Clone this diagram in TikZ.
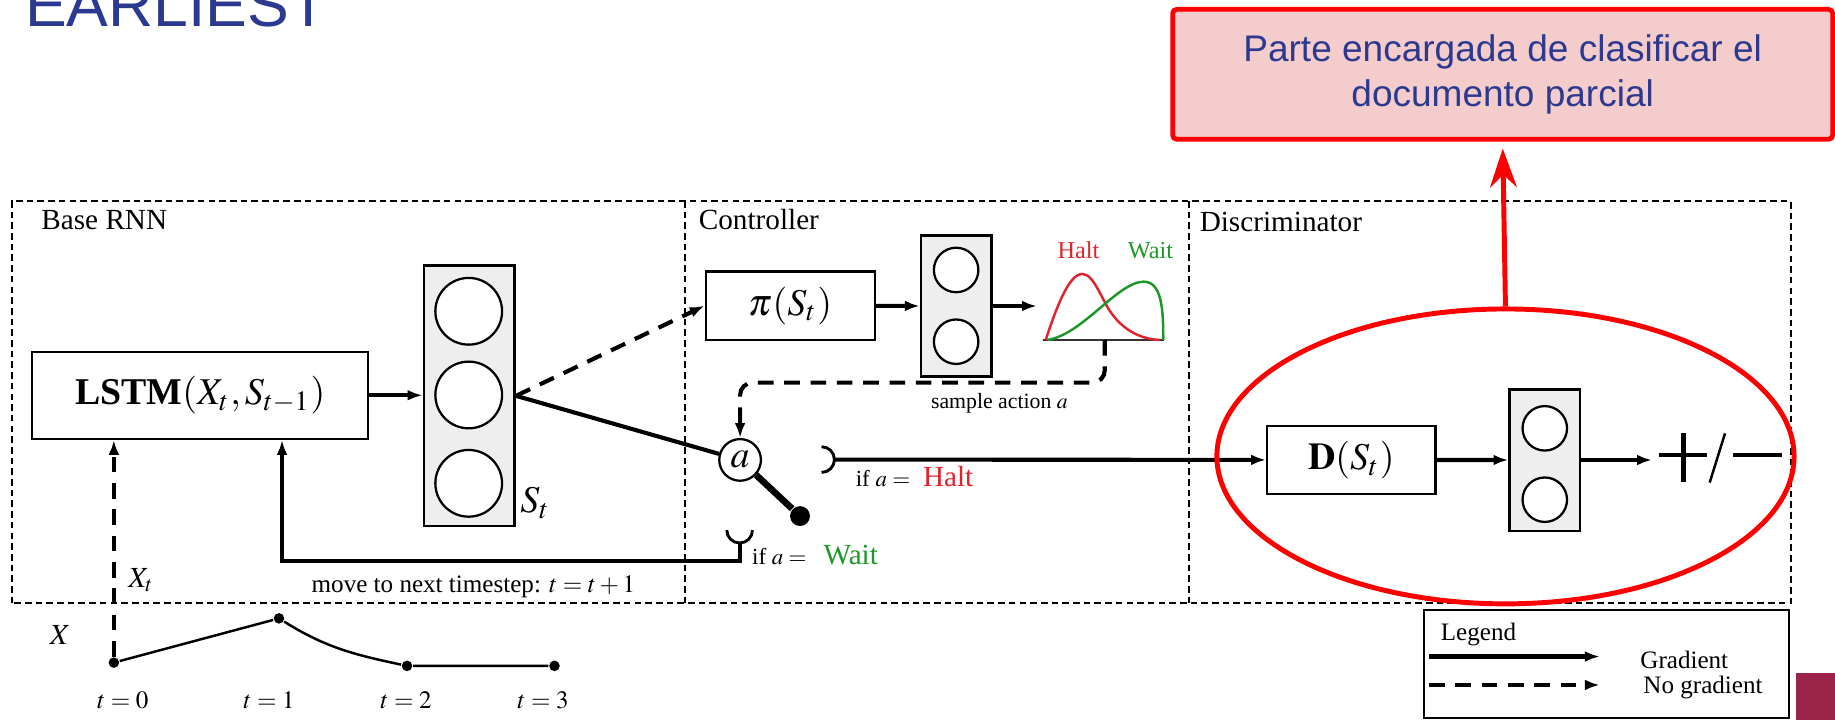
\documentclass[tikz,border=0pt]{standalone}
\usepackage{mathptmx}
\usepackage{fontspec}
\setmainfont{Liberation Serif}
\newfontfamily\slidefont{Liberation Sans}
\usetikzlibrary{arrows.meta,shapes.geometric}

\definecolor{slideblue}{RGB}{43,57,144}
\definecolor{notefill}{RGB}{244,204,204}
\definecolor{haltred}{RGB}{225,35,45}
\definecolor{waitgreen}{RGB}{30,150,40}
\definecolor{slidemaroon}{RGB}{155,34,73}

\begin{document}
\begin{tikzpicture}[
  region/.style ={draw, line width=0.5pt, dash pattern=on 1.6pt off 1pt},
  blk/.style    ={draw, line width=0.55pt, fill=white, inner sep=0pt},
  vecbox/.style ={draw, line width=0.65pt, fill=gray!13, inner sep=0pt},
  cell/.style   ={circle, draw, line width=0.55pt, fill=white, inner sep=0pt},
  grad/.style   ={line width=1pt, -{Latex[length=3.6pt,width=2.6pt]}},
  nograd/.style ={grad, dash pattern=on 3.8pt off 2.6pt},
  tdot/.style   ={circle, fill, inner sep=0pt, minimum size=0.09cm},
  sect/.style   ={font=\fontsize{7.1}{8.5}\selectfont, anchor=base west, inner sep=0pt},
  mathlbl/.style={font=\fontsize{9.2}{11}\selectfont},
  tiny/.style   ={font=\fontsize{5.6}{6.5}\selectfont, anchor=base west, inner sep=0pt},
  note/.style   ={font=\fontsize{6.1}{7.5}\selectfont, anchor=base west, inner sep=0pt},
  hl/.style     ={draw=red, line width=1.2pt}]

  \useasboundingbox (0,0) rectangle (15.68,6.15);

  % ---------------- slide title ----------------
  \node[anchor=base west, inner sep=0pt, text=slideblue,
        font=\slidefont\fontsize{15.2}{18}\selectfont] (title) at (0.208,5.922) {EARLIEST};

  % ---------------- three regions ----------------
  \draw[region] (0.10,0.995) rectangle (15.30,4.43);
  \draw[region] (5.855,0.995) -- (5.855,4.43);
  \draw[region] (10.16,0.995) -- (10.16,4.43);
  \node[sect] (rnnlbl)  at (0.347,4.185) {Base RNN};
  \node[sect] (ctrllbl) at (5.965,4.185) {Controller};
  \node[sect] (disclbl) at (10.245,4.17) {Discriminator};

  % ---------------- base RNN ----------------
  \node[blk, mathlbl, minimum width=2.87cm, minimum height=0.745cm] (lstm) at (1.711,2.7725)
       {\textbf{LSTM}$(X_t, S_{t-1})$};
  \node[vecbox, minimum width=0.776cm, minimum height=2.225cm] (hid) at (4.01,2.7675) {};
  \foreach \y/\n in {3.49/1, 2.775/2, 2.02/3}
    \node[cell, minimum size=0.57cm] (h\n) at (4.005,\y) {};
  \node[mathlbl, anchor=base west, inner sep=0pt] (st) at (4.44,1.77) {$S_t$};
  \draw[grad] (lstm.east) -- (lstm.east -| hid.west);

  % input series X
  \node[tdot] (d0) at (0.973,0.488) {};
  \node[tdot] (d1) at (2.384,0.866) {};
  \node[tdot] (d2) at (3.478,0.46) {};
  \node[tdot] (d3) at (4.738,0.46) {};
  \draw[line width=0.6pt] (d0) -- (d1) to[out=-32,in=168] (d2) -- (d3);
  \node[sect] (xlbl) at (0.42,0.64) {$X$};
  \foreach \x/\t in {1.05/0, 2.30/1, 3.47/2, 4.64/3}
    \node[note, anchor=base] (t\t) at (\x,0.10) {$t=\t$};
  \draw[nograd] (d0) -- (d0 |- lstm.south);
  \node[sect] (xt) at (1.09,1.13) {$X_t$};

  % ---------------- controller ----------------
  \node[blk, mathlbl, minimum width=1.447cm, minimum height=0.585cm] (pol) at (6.754,3.5375) {$\pi(S_t)$};
  \draw[nograd] (hid.east) -- (pol.west);
  \node[vecbox, minimum width=0.6cm, minimum height=1.21cm] (act) at (8.17,3.535) {};
  \node[cell, minimum size=0.38cm] (a1) at (8.17,3.843) {};
  \node[cell, minimum size=0.38cm] (a2) at (8.17,3.23) {};
  \coordinate (distin) at (8.86,3.535);
  \draw[grad] (pol) -- (act);
  \draw[grad] (act) -- (distin);

  % halt / wait distribution
  \draw[line width=0.5pt, black!80] (8.91,3.245) -- (9.946,3.245);
  \draw[haltred, line width=0.6pt] (8.935,3.245) .. controls (9.02,3.5) and (9.13,3.81) .. (9.248,3.809)
       .. controls (9.35,3.81) and (9.42,3.57) .. (9.5,3.47)
       .. controls (9.6,3.33) and (9.75,3.25) .. (9.912,3.245);
  \draw[waitgreen, line width=0.6pt] (8.95,3.245) .. controls (9.25,3.29) and (9.55,3.74) .. (9.77,3.743)
       .. controls (9.93,3.745) and (9.94,3.5) .. (9.94,3.245);
  \node[tiny, text=haltred, font=\fontsize{5.9}{7}\selectfont] (hlbl) at (9.03,3.943) {Halt};
  \node[tiny, text=waitgreen, font=\fontsize{5.9}{7}\selectfont] (wlbl) at (9.63,3.943) {Wait};

  % switch on the sampled action
  \coordinate (samp) at (9.44,3.245);
  \node[cell, mathlbl, minimum size=0.356cm] (sw) at (6.324,2.22) {$a$};
  \draw[nograd, rounded corners=3pt] (samp) -- ++(0,-0.365) -| (sw.north);
  \node[tiny, anchor=base, font=\fontsize{5.3}{6.5}\selectfont] (samplbl) at (8.54,2.66) {sample action $a$};
  \draw[line width=1pt] (hid.east) -- (sw);
  \node[tdot, minimum size=0.17cm] (knob) at (6.836,1.74) {};
  \draw[line width=1.6pt] (sw) -- (knob);

  % halt contact
  \draw[line width=0.7pt] (7.02,2.333) arc[start angle=90, end angle=-90, radius=0.11];
  \coordinate (haltcup) at (7.13,2.223);
  \node[tiny] (ifh) at (7.306,1.99) {if $a=$};
  \node[sect, text=haltred] (halt) at (7.88,1.99) {Halt};

  % wait contact, back to the next timestep
  \draw[line width=0.7pt] (6.21,1.62) arc[start angle=180, end angle=360, radius=0.11];
  \coordinate (waitcup) at (6.32,1.51);
  \node[tiny] (ifw) at (6.42,1.33) {if $a=$};
  \node[sect, text=waitgreen] (wait) at (7.03,1.33) {Wait};
  \draw[grad] (waitcup) -- ++(0,-0.15) -| ([xshift=0.699cm]lstm.south);
  \node[note, anchor=base] (movelbl) at (4.045,1.09) {move to next timestep: $t=t+1$};

  % ---------------- discriminator ----------------
  \node[blk, mathlbl, minimum width=1.44cm, minimum height=0.58cm] (disc) at (11.547,2.22) {$\mathbf{D}(S_t)$};
  \draw[grad] (haltcup) -- (disc.west);
  \node[vecbox, minimum width=0.6cm, minimum height=1.21cm] (out) at (13.2,2.219) {};
  \node[cell, minimum size=0.38cm] (o1) at (13.2,2.49) {};
  \node[cell, minimum size=0.38cm] (o2) at (13.2,1.88) {};
  \coordinate (sign) at (14.116,2.219);
  \draw[grad] (disc) -- (out);
  \draw[grad] (out) -- (sign);
  % +/- outcome
  \draw[line width=1.2pt] (14.18,2.262) -- (14.586,2.262) (14.384,2.034) -- (14.384,2.453);
  \draw[line width=0.6pt] (14.609,2.026) -- (14.74,2.447);
  \draw[line width=1.2pt] (14.81,2.262) -- (15.227,2.262);

  % ---------------- legend ----------------
  \node[draw, line width=0.5pt, minimum width=3.12cm, minimum height=0.926cm, inner sep=0pt] (legend) at (13.728,0.475) {};
  \node[note] (leglbl) at (12.305,0.68) {Legend};
  \coordinate (lg1s) at (12.21,0.54);  \coordinate (lg1e) at (13.67,0.54);
  \coordinate (lg2s) at (12.21,0.297); \coordinate (lg2e) at (13.67,0.297);
  \draw[grad] (lg1s) -- (lg1e);
  \draw[nograd] (lg2s) -- (lg2e);
  \node[note] (gradlbl) at (14.01,0.44) {Gradient};
  \node[note] (nogradlbl) at (14.036,0.226) {No gradient};

  % ---------------- highlight of the classifier part ----------------
  \node[ellipse, hl, minimum width=4.932cm, minimum height=2.52cm, inner sep=0pt] (focus) at (12.864,2.25) {};
  \node[draw=red, line width=1.15pt, fill=notefill, rounded corners=1pt, minimum width=5.64cm,
        minimum height=1.11cm, align=center, text=slideblue,
        font=\slidefont\fontsize{9}{10.95}\selectfont] (notebox) at (12.84,5.515)
       {Parte encargada de clasificar el\\documento parcial};
  \draw[red, line width=1.2pt, -{Stealth[length=9.4pt,width=6.5pt]}, shorten >=1.7pt] (focus.north) -- (notebox.south);

  \fill[slidemaroon] (15.347,0) rectangle (15.68,0.397);
\end{tikzpicture}
\end{document}
